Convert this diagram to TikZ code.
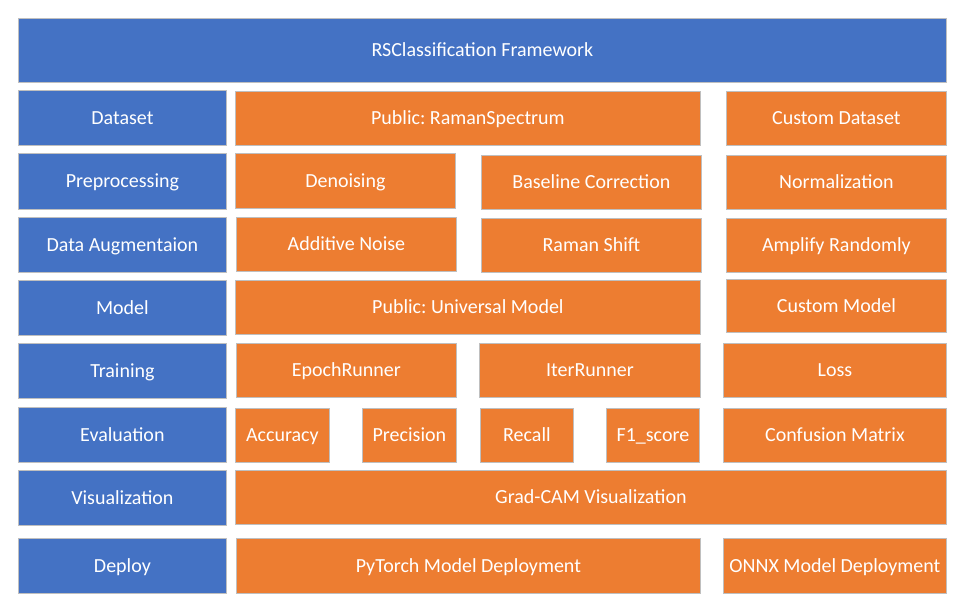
\documentclass[tikz,border=0pt]{standalone}
\usepackage{fontspec}
\setmainfont{Carlito}
\frenchspacing
\definecolor{layerblue}{HTML}{4472C4}
\definecolor{partorange}{HTML}{ED7D31}
\definecolor{edgegray}{HTML}{BFBFBF}
\tikzset{
  layer/.style={draw=edgegray, line width=0.8pt, fill=layerblue, text=white, inner sep=0pt,
    text height=13pt, text depth=0pt},
  part/.style={draw=edgegray, line width=0.8pt, fill=partorange, text=white, inner sep=0pt,
    text height=13pt, text depth=0pt},
  span/.style n args={4}{at={(#1pt,-#2pt)}, anchor=north west,
    minimum width={(#3-#1)*1pt}, minimum height={(#4-#2)*1pt}}
}
\begin{document}
\begin{tikzpicture}[font=\fontsize{20}{24}\selectfont]
\useasboundingbox (0,0) rectangle (958pt,-615pt);
\node[layer, span={18}{18}{946}{82}] (frame) {RSClassification Framework};
% left column
\node[layer, span={18}{90}{226}{145}] (dataset) {Dataset};
\node[layer, span={18}{153}{226}{209}] (prep) {Preprocessing};
\node[layer, span={18}{217}{226}{272}] (aug) {Data Augmentaion};
\node[layer, span={18}{280}{226}{335}] (model) {Model};
\node[layer, span={18}{343}{226}{398}] (train) {Training};
\node[layer, span={18}{407}{226}{462}] (eval) {Evaluation};
\node[layer, span={18}{470}{226}{525}] (vis) {Visualization};
\node[layer, span={18}{538}{226}{593}] (deploy) {Deploy};
% dataset
\node[part, span={235}{91}{700}{145}] (ramanpub) {Public: RamanSpectrum};
\node[part, span={726}{91}{946}{145}] (customdata) {Custom Dataset};
% preprocessing
\node[part, span={235}{153}{455}{208}] (denoise) {Denoising};
\node[part, span={481}{155}{701}{209}] (baseline) {Baseline Correction};
\node[part, span={726}{155}{946}{209}] (norm) {Normalization};
% augmentation
\node[part, span={236}{217}{456}{271}] (noise) {Additive Noise};
\node[part, span={481}{218}{701}{272}] (shift) {Raman Shift};
\node[part, span={726}{218}{946}{272}] (amplify) {Amplify Randomly};
% model
\node[part, span={235}{280}{700}{334}] (unimodel) {Public: Universal Model};
\node[part, span={726}{279}{946}{332}] (custommodel) {Custom Model};
% training
\node[part, span={236}{343}{456}{397}] (epoch) {EpochRunner};
\node[part, span={479}{343}{700}{397}] (iter) {IterRunner};
\node[part, span={723}{343}{946}{397}] (loss) {Loss};
% evaluation
\node[part, span={235}{408}{329}{462}] (acc) {Accuracy};
\node[part, span={362}{408}{456}{462}] (prec) {Precision};
\node[part, span={480}{408}{573}{462}] (recall) {Recall};
\node[part, span={606}{408}{699}{462}] (fone) {F1\_score};
\node[part, span={723}{408}{946}{462}] (confusion) {Confusion Matrix};
% visualization and deploy
\node[part, span={235}{470}{946}{524}] (gradcam) {Grad-CAM Visualization};
\node[part, span={236}{538}{700}{593}] (torchdep) {PyTorch Model Deployment};
\node[part, span={723}{538}{946}{593}] (onnxdep) {ONNX Model Deployment};
\end{tikzpicture}
\end{document}
